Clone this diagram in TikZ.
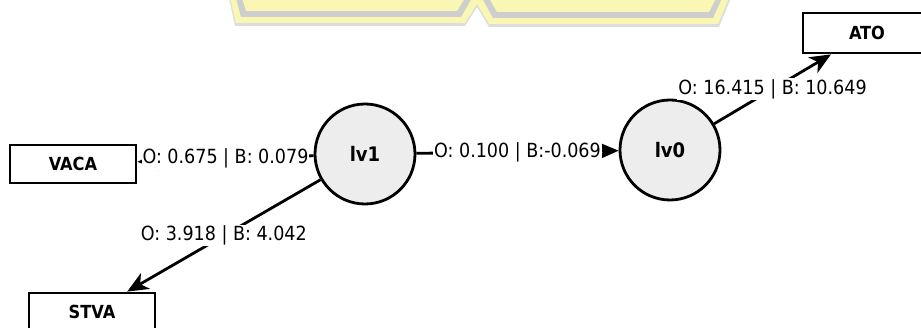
\documentclass[tikz,border=0pt]{standalone}
\usepackage{fontspec}
\setmainfont{DejaVu Sans}
\newfontfamily\boxfont{DejaVu Sans Condensed}
\usetikzlibrary{arrows.meta}
\definecolor{wmyellow}{RGB}{250,246,180}
\definecolor{wmgray}{RGB}{206,206,206}
\begin{document}
\begin{tikzpicture}[x=1pt,y=-1pt,
  box/.style={draw,line width=2.8pt,fill=white,minimum width=126pt,minimum height=38pt,
    inner sep=0pt,font=\boxfont\bfseries\fontsize{18}{20}\selectfont},
  latent/.style={circle,draw,line width=2.8pt,fill=black!7,minimum size=100pt,
    inner sep=0pt,font=\boxfont\bfseries\fontsize{20}{22}\selectfont},
  link/.style={line width=2.8pt,-{Stealth[length=21pt,width=18pt,inset=6pt]}},
  weight/.style={fill=white,inner sep=1pt,font=\boxfont\fontsize{19.5}{22}\selectfont}]
\useasboundingbox (0,0) rectangle (921,328);
\clip (0,0) rectangle (921,328);

% faded logo stripes along the top edge
\fill[wmgray!70] (229,-2) -- (235,26) -- (465,26) -- (477,7) -- (489,27) -- (719,27) -- (731,-2) -- cycle;
\fill[wmyellow] (230,-2) -- (236,23) -- (465,23) -- (477,4) -- (489,24) -- (718,24) -- (729,-2) -- cycle;
\fill[wmgray] (236,-2) -- (241,17) -- (461,17) -- (472,-2) -- cycle;
\fill[wmgray] (482,-2) -- (493,18) -- (713,18) -- (722,-2) -- cycle;
\fill[wmyellow] (242,-2) -- (246,11) -- (457,11) -- (465,-2) -- cycle;
\fill[wmyellow] (489,-2) -- (497,12) -- (709,12) -- (716,-2) -- cycle;

% indicator boxes and latent variables
\node[box] (vaca) at (73,164) {VACA};
\node[box] (stva) at (92,312) {STVA};
\node[box,minimum width=128pt,minimum height=40pt] (ato) at (867,33) {ATO};
\node[latent] (lv1) at (365,154) {lv1};
\node[latent] (lv0) at (670,150) {lv0};

% weighted paths
\draw[link] (lv1) -- node[weight] {O: 0.675 | B: 0.079} (vaca);
\draw[link] (lv1) -- node[weight] {O: 0.100 | B:-0.069} (lv0);
\draw[link] (lv0) -- node[weight] {O: 16.415 | B: 10.649} (ato);
\draw[link] (lv1) -- node[weight] {O: 3.918 | B: 4.042} (stva);
\end{tikzpicture}
\end{document}
